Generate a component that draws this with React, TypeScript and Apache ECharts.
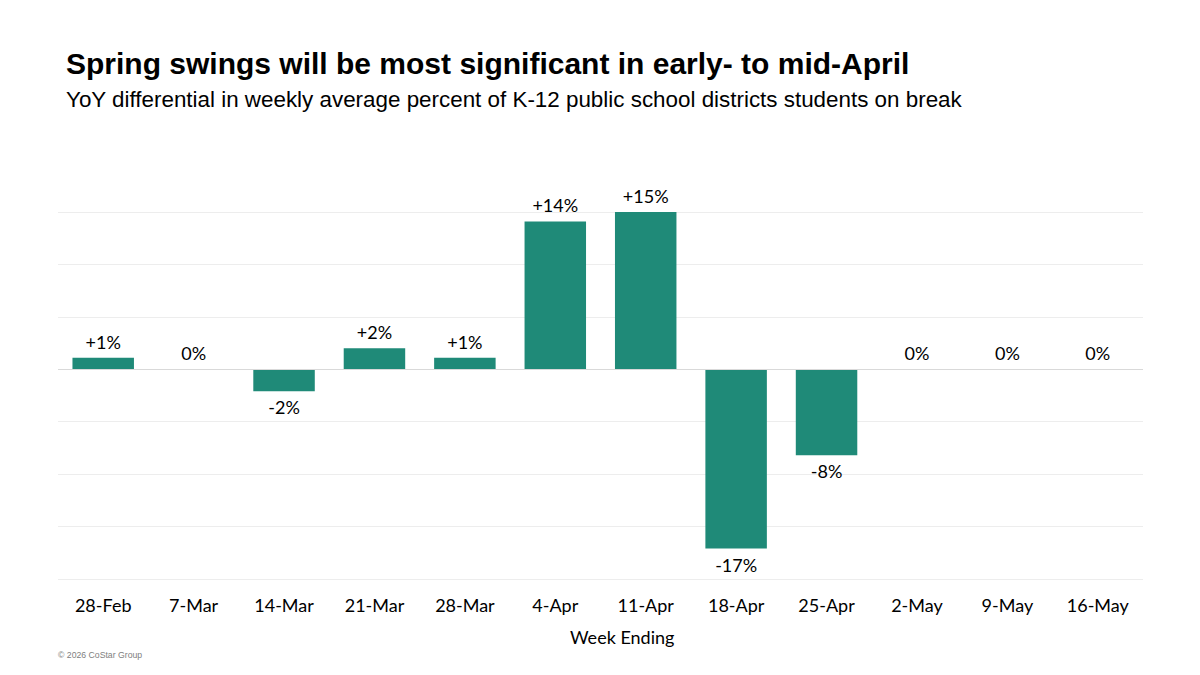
import React, { useEffect, useRef } from "react";
import * as echarts from "echarts";

const categories = ["28-Feb", "7-Mar", "14-Mar", "21-Mar", "28-Mar", "4-Apr", "11-Apr", "18-Apr", "25-Apr", "2-May", "9-May", "16-May"];
const values = [1.1, 0, -2.1, 2.0, 1.1, 14.1, 15.1, -17.1, -8.2, 0, 0, 0];

const titleText = "Spring swings will be most significant in early- to mid-April";
const subtitleText = "YoY differential in weekly average percent of K-12 public school districts students on break";
const axisName = "Week Ending";
const footerText = "© 2026 CoStar Group";

export default function App() {
  const ref = useRef<HTMLDivElement>(null);
  useEffect(() => {
    const chart = echarts.init(ref.current!, null, { renderer: "svg" });
    const labelFont = "Lato, Open Sans";
    chart.setOption({
      animation: false,
      backgroundColor: "#ffffff",
      title: [
        {
          text: titleText,
          left: 61,
          top: 43,
          padding: 5,
          textStyle: { fontFamily: "Liberation Sans, Arial", fontSize: 30, fontWeight: "bold", color: "#000" },
        },
        {
          text: subtitleText,
          left: 61,
          top: 83,
          textStyle: { fontFamily: "Liberation Sans, Arial", fontSize: 22.4, fontWeight: "normal", color: "#000" },
        },
        {
          text: footerText,
          left: 53,
          top: 645,
          textStyle: { fontFamily: "Liberation Sans, Arial", fontSize: 8.7, fontWeight: "normal", color: "#808080" },
        },
      ],
      graphic: [
        {
          type: "text",
          left: 570,
          top: 628,
          style: { text: axisName, font: `18px ${labelFont}`, fill: "#000" },
        },
      ],
      grid: { left: 58, right: 57, top: 212, bottom: 96 },
      xAxis: {
        type: "category",
        data: categories,
        axisLine: { show: false },
        axisTick: { show: false },
        axisLabel: { fontFamily: labelFont, fontSize: 18, color: "#000", margin: 17 },
      },
      yAxis: {
        type: "value",
        min: -20,
        max: 15,
        interval: 5,
        axisLabel: { show: false },
        axisLine: { show: false },
        axisTick: { show: false },
        splitLine: { lineStyle: { color: "#ededed", width: 1 } },
      },
      series: [
        {
          type: "bar",
          data: values.map((v) => ({
            value: v,
            label: { position: v < 0 ? "bottom" : "top" },
          })),
          barWidth: "68%",
          itemStyle: { color: "#1f8a78" },
          label: {
            show: true,
            distance: 7,
            fontFamily: labelFont,
            fontSize: 18,
            color: "#000",
            formatter: (p: any) => {
              const r = Math.round(p.value);
              return r > 0 ? `+${r}%` : `${r}%`;
            },
          },
          markLine: {
            silent: true,
            symbol: "none",
            label: { show: false },
            lineStyle: { color: "#d9d9d9", type: "solid", width: 1 },
            data: [{ yAxis: 0 }],
          },
        },
      ],
    });
    return () => chart.dispose();
  }, []);
  return <div ref={ref} style={{ width: 1200, height: 675, position: "absolute", left: 0, top: 0 }} />;
}
